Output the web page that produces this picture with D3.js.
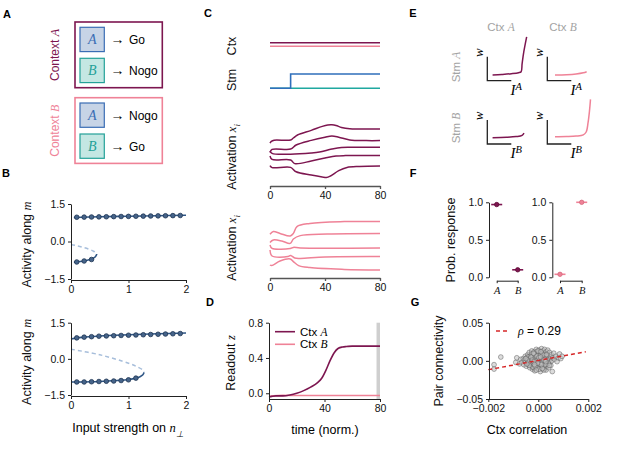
<!DOCTYPE html>
<html>
<head>
<meta charset="utf-8">
<script src="https://cdn.jsdelivr.net/npm/d3@7"></script>
<style>
  body { margin: 0; background: #fff; }
  svg { font-family: "Liberation Sans", Arial, sans-serif; }
  .math { font-family: "Liberation Serif", "Times New Roman", serif; font-style: italic; }
  .tick text { font-size: 10.5px; fill: #111; }
</style>
</head>
<body>
<div id="fig"></div>
<script>
// ---------- data ----------
const darkCol = "#7d1650";
const pinkCol = "#ef8297";

// A: task rules
const contexts = ["A", "B"];
const rulesA = [["A", "Go"], ["B", "Nogo"]];
const rulesB = [["A", "Nogo"], ["B", "Go"]];

// B: bifurcation diagrams (x = input strength, y = activity along m)
const bTopUpper = [[0.05, 0.96], [0.5, 0.99], [1, 1.01], [1.5, 1.03], [2, 1.05]];
const bTopLower = [[0.05, -0.83], [0.1, -0.82], [0.2, -0.79], [0.3, -0.74], [0.36, -0.7], [0.42, -0.62], [0.45, -0.5]];
const bTopUnstable = [[0, -0.12], [0.1, -0.17], [0.2, -0.23], [0.3, -0.3], [0.4, -0.4], [0.45, -0.5]];
const bTopDotsUpper = [0.97, 0.975, 0.98, 0.985, 0.99, 0.995, 1.0, 1.005, 1.01, 1.015, 1.02, 1.025, 1.03, 1.035, 1.04];
const bTopDotsLower = [-0.82, -0.78, -0.72];
const bBotUpper = [[0, 0.82], [0.1, 0.87], [0.23, 0.9], [0.5, 0.95], [1, 1.0], [1.5, 1.04], [2, 1.07]];
const bBotLower = [[0, -0.96], [0.5, -0.94], [0.8, -0.9], [1.0, -0.86], [1.13, -0.8], [1.2, -0.74], [1.25, -0.66], [1.27, -0.57]];
const bBotUnstable = [[0, 0.4], [0.5, 0.17], [1.0, -0.18], [1.15, -0.33], [1.25, -0.47], [1.27, -0.57]];
const bBotDotsUpper = [0.87, 0.9, 0.92, 0.94, 0.95, 0.96, 0.97, 0.98, 0.99, 1.0, 1.01, 1.02, 1.03, 1.04, 1.05];
const bBotDotsLower = [-0.96, -0.96, -0.95, -0.94, -0.93, -0.92, -0.9, -0.87, -0.8];
const bDotX = d3.range(15).map(i => 0.1 + i * 1.8 / 14);

// C: inputs
const timeTicks = [0, 40, 80];
const ctxA = [[0, 1], [80, 1]];
const ctxB = [[0, 0.9], [80, 0.9]];
const stmA = [[0, 0], [15, 0], [15, 1], [80, 1]];
const stmB = [[0, 0], [80, 0]];

// C: activations, context A
const actA = [
  [[0, 0.84], [1, 0.93], [3, 0.99], [15, 1.0], [17, 1.1], [20, 1.25], [30, 1.48], [38, 1.68], [42, 1.75], [45, 1.76], [48, 1.73], [52, 1.63], [58, 1.56], [65, 1.55], [80, 1.55]],
  [[0, 0.38], [1.5, 0.53], [15, 0.55], [19, 0.75], [30, 0.98], [40, 1.14], [45, 1.2], [50, 1.14], [58, 1.0], [70, 0.97], [80, 0.97]],
  [[0, 0.45], [1.5, 0.33], [15, 0.29], [30, 0.35], [36, 0.4], [45, 0.55], [52, 0.63], [60, 0.64], [80, 0.64]],
  [[0, 0.2], [1.5, 0.03], [15, 0], [18, -0.18], [30, -0.05], [40, 0.1], [48, 0.2], [55, 0.22], [80, 0.22]],
  [[0, -0.28], [1.5, -0.38], [15, -0.37], [19, -0.59], [30, -0.75], [38, -0.85], [41, -0.88], [44, -0.8], [50, -0.53], [56, -0.37], [65, -0.32], [80, -0.3]]
];
// C: activations, context B
const actB = [
  [[0, 0.79], [2.4, 0.92], [7.3, 0.83], [14.7, 0.7], [17, 0.83], [19.6, 1.17], [29, 1.33], [54, 1.42], [80, 1.42]],
  [[0, 0.38], [2.4, 0.5], [8.6, 0.45], [14.7, 0.33], [17, 0.55], [22, 0.72], [41.6, 0.8], [80, 0.83]],
  [[0, 0.25], [1.5, 0.08], [14.7, 0.08], [17, 0.13], [22, 0.1], [80, 0.1]],
  [[0, 0.0], [1.5, -0.3], [13, -0.33], [15, -0.27], [18, -0.4], [22, -0.42], [40, -0.35], [80, -0.33]],
  [[0, -0.75], [1.2, -0.78], [7.3, -0.55], [14.7, -0.45], [17, -0.58], [20.8, -0.78], [29, -0.88], [54, -0.97], [80, -1.0]]
];

// D: readout
const readA = [[0, -0.04], [2, -0.035], [5, -0.03], [10, -0.03], [15, -0.02], [20, 0.0], [25, 0.03], [30, 0.07], [35, 0.12], [38, 0.17], [41, 0.26], [44, 0.37], [47, 0.46], [50, 0.51], [53, 0.525], [56, 0.53], [60, 0.535], [70, 0.535], [80, 0.535]];
const readB = [[0, -0.04], [3, -0.028], [10, -0.024], [20, -0.025], [40, -0.025], [80, -0.025]];
const readWindow = [77.5, 80];
const readTicks = [0.0, 0.4, 0.8];

// E: w vs input curves (ctx, stm)
const eAA = [[0.22, 0.24], [0.6, 0.26], [1.0, 0.29], [1.3, 0.33], [1.41, 0.375], [1.45, 0.7], [1.52, 1.2], [1.64, 1.83]];
const eBA = [[0.32, 0.24], [0.8, 0.25], [1.2, 0.28], [1.5, 0.33], [1.64, 0.375]];
const eAB = [[0.22, 0.26], [0.8, 0.28], [1.2, 0.31], [1.45, 0.36], [1.53, 0.45]];
const eBB = [[0.32, 0.3], [0.8, 0.31], [1.2, 0.33], [1.5, 0.38], [1.62, 0.5], [1.7, 0.9], [1.76, 1.4], [1.8, 1.86]];

// F: probability of response
const stimuli = ["A", "B"];
const probCtxA = [0.97, 0.1];
const probCtxB = [0.04, 1.0];
const probTicks = [0, 0.5, 1];

// G: pair connectivity vs ctx correlation (x in 1e-4, y in 1e-3)
const pairPts = [
  [-17.7, -5], [-17.7, -10.8], [-15, 5], [-9, -2], [-8.6, 4], [-7.5, -4], [-7, 2],
  [-6.5, -2], [-6, 3], [-5.8, -5], [-5.5, 1], [-5.2, 6], [-5, -1], [-4.8, -7], [-4.6, 4], [-4.4, -3], [-4.2, 8],
  [-4, 0], [-3.9, -5], [-3.7, 2], [-3.6, 11], [-3.4, -9], [-3.3, 5], [-3.1, -2], [-3, 7], [-2.9, -6], [-2.8, 1],
  [-2.6, 13], [-2.5, -4], [-2.4, 4], [-2.3, -11], [-2.2, 9], [-2.1, -1], [-2, 6], [-1.9, -7], [-1.8, 2], [-1.7, 12],
  [-1.6, -3], [-1.5, 7], [-1.4, -13], [-1.3, 0], [-1.2, 10], [-1.1, -5], [-1, 4], [-0.9, -9], [-0.8, 15], [-0.7, 1],
  [-0.6, -2], [-0.5, 8], [-0.4, -6], [-0.3, 3], [-0.2, 11], [-0.1, -4], [0, 6], [0.1, -10], [0.2, 1], [0.3, 14],
  [0.4, -1], [0.5, 9], [0.6, -7], [0.7, 4], [0.8, -14], [0.9, 12], [1, 0], [1.1, 7], [1.2, -3], [1.3, 16],
  [1.4, -8], [1.5, 2], [1.6, 10], [1.7, -5], [1.8, 5], [1.9, -11], [2, 13], [2.1, -1], [2.2, 8], [2.3, -6],
  [2.4, 3], [2.5, 15], [2.6, -3], [2.7, 10], [2.8, -9], [2.9, 1], [3, 6], [3.1, -12], [3.2, 12], [3.3, -2],
  [3.4, 4], [3.5, -7], [3.6, 9], [3.7, 0], [3.8, 14], [3.9, -4], [4, 7], [4.2, -9], [4.3, 2], [4.5, 11],
  [4.6, -2], [4.8, 5], [5, -6], [5.2, 8], [5.4, 0], [5.6, -14], [5.8, 4], [6.2, 10], [6.5, 2], [7, 6],
  [7.5, -1], [8, 4], [8.5, 9], [9, 3], [9.5, 6],
  [-1.5, 2], [-1, -1], [-0.5, 3], [0, -2], [0.5, 2], [1, -6], [1.5, 5], [-2, 0], [-2.5, 3], [2, -2],
  [2.5, 4], [-0.3, -8], [0.3, 8], [-3, -3], [3, 3], [0.8, -3], [-0.8, 5], [1.2, 1], [-1.2, -2], [0.2, -5],
  [-3.5, -1], [-4, 5], [4, -3], [3.5, 2], [1.8, -8], [-1.8, -9], [0.6, 12], [-0.6, 12], [2.2, -12], [-2.2, -8],
  [-1, 8], [0, 10], [1, 9], [-2, -4], [0, 3], [1.3, -1], [-0.7, -5], [2.6, 7], [-2.7, 9], [0.4, 5],
  [-3.2, 3], [-2.7, -2], [-2.3, 6], [-1.9, -3], [-1.4, 4], [-1.1, 1], [-0.9, -3], [-0.4, 1], [0.1, -1], [0.6, 3],
  [0.9, -1], [1.4, 3], [1.7, 1], [2.1, 4], [2.4, -1], [2.8, 2], [3.2, -4], [-3.8, -2], [-4.3, 1], [-5, 3],
  [-1.6, 9], [-0.2, 7], [0.7, 7], [1.9, 8], [-2.9, 5], [-0.5, -9], [0.5, -4], [1.5, -3], [-1.3, -7], [2.7, -5],
  [-0.1, 13], [1.1, 12], [-1.9, 10], [3.3, 8], [-3.6, -6], [0.3, -11], [-0.8, -12], [1.6, -10], [4.4, -6], [-4.6, -4],
  [-2.4, 1], [-1.7, -1], [-0.6, 6], [0.2, 4], [0.9, 5], [1.2, -5], [2.3, 1], [-0.3, -3], [-1.5, -5], [3, -1]
];
const fitLine = [[-0.002, -0.0115], [0.0019, 0.0118]];
const rho = "0.29";

// ---------- helpers ----------
const W = 627, H = 454;
const svg = d3.select("#fig").append("svg").attr("width", W).attr("height", H);

function styleAxis(g) {
  g.attr("font-size", null).attr("font-family", null);
  g.selectAll("path, line").attr("stroke", "#222").attr("stroke-width", 1);
}

function mathLabel(sel, parts) {
  // parts: [text, kind] where kind: "n" normal, "m" math italic, "sub", "sup"
  parts.forEach(([t, k]) => {
    const ts = sel.append("tspan").text(t);
    if (k !== "n") ts.attr("class", "math");
    if (k === "sub") ts.attr("baseline-shift", "sub").attr("font-size", "0.7em");
    if (k === "sup") ts.attr("baseline-shift", "super").attr("font-size", "0.7em");
  });
  return sel;
}

function rotLabel(x, y, parts, size, color) {
  const t = svg.append("text")
    .attr("transform", `translate(${x},${y}) rotate(-90)`)
    .attr("text-anchor", "middle")
    .attr("dominant-baseline", "middle")
    .attr("font-size", size || 12)
    .attr("fill", color || "#111");
  return mathLabel(t, parts);
}

// panel letters
[["A", 7, 14], ["B", 6, 173], ["C", 208, 13], ["D", 210, 302], ["E", 413, 13], ["F", 413, 173], ["G", 415, 302]]
  .forEach(([l, x, y]) => svg.append("text").attr("x", x).attr("y", y + 4)
    .attr("text-anchor", "middle").attr("font-weight", "bold").attr("font-size", 11).text(l));

// ---------- A ----------
const sqStyle = {
  A: { fill: "#c7d4e6", stroke: "#3a6db4" },
  B: { fill: "#c4e7e3", stroke: "#24a198" }
};
[[rulesA, 22, darkCol], [rulesB, 97.7, pinkCol]].forEach(([rules, y0, col], ci) => {
  svg.append("rect").attr("x", 75).attr("y", y0).attr("width", 87.3).attr("height", 65.7)
    .attr("fill", "none").attr("stroke", col).attr("stroke-width", 1.6);
  rotLabel(56, y0 + 33, [["Context ", "n"], [contexts[ci], "m"]], 12, col);
  rules.forEach(([stim, resp], i) => {
    const sy = y0 + 5.3 + i * 31;
    svg.append("rect").attr("x", 80).attr("y", sy).attr("width", 24.3).attr("height", 24.3)
      .attr("fill", sqStyle[stim].fill).attr("stroke", sqStyle[stim].stroke).attr("stroke-width", 1.2);
    svg.append("text").attr("class", "math").attr("x", 92.2).attr("y", sy + 17)
      .attr("text-anchor", "middle").attr("font-size", 14).attr("fill", sqStyle[stim].stroke).text(stim);
    svg.append("text").attr("x", 110.5).attr("y", sy + 16.5).attr("font-size", 14)
      .attr("font-family", "Liberation Serif").text("→");
    svg.append("text").attr("x", 129).attr("y", sy + 16.5).attr("font-size", 12).text(resp);
  });
});

// ---------- B ----------
function bifurcation(yTop, yBot, upper, lower, unstable, dotsU, dotsL) {
  const x = d3.scaleLinear([0, 2], [71, 186]);
  const y = d3.scaleLinear([-1.5, 1.5], [yBot, yTop]);
  const line = d3.line().x(d => x(d[0])).y(d => y(d[1])).curve(d3.curveCatmullRom);
  const g = svg.append("g");
  g.append("path").attr("d", line(unstable)).attr("fill", "none")
    .attr("stroke", "#a7bedb").attr("stroke-width", 1.5).attr("stroke-dasharray", "4,3");
  [upper, lower].forEach(d => g.append("path").attr("d", line(d)).attr("fill", "none")
    .attr("stroke", "#2f5685").attr("stroke-width", 1.6));
  const dots = dotsU.map((v, i) => [bDotX[i], v]).concat(dotsL.map((v, i) => [bDotX[i], v]));
  g.selectAll("circle").data(dots).join("circle")
    .attr("cx", d => x(d[0])).attr("cy", d => y(d[1])).attr("r", 2.3)
    .attr("fill", "#46648a").attr("stroke", "#1d3352").attr("stroke-width", 0.8);
  svg.append("g").attr("transform", "translate(71,0)")
    .call(d3.axisLeft(y).tickValues([-1.5, 0, 1.5]).tickFormat(d3.format(".1f")).tickSize(3).tickSizeOuter(0))
    .call(styleAxis);
  svg.append("g").attr("transform", `translate(0,${yBot + 1})`)
    .call(d3.axisBottom(x).tickValues([0, 1, 2]).tickFormat(d3.format("d")).tickSize(3).tickSizeOuter(0))
    .call(styleAxis);
  rotLabel(28, (yTop + yBot) / 2 + 3, [["Activity along ", "n"], ["m", "m"]], 12.5);
}
bifurcation(204, 279, bTopUpper, bTopLower, bTopUnstable, bTopDotsUpper, bTopDotsLower);
bifurcation(322.7, 395, bBotUpper, bBotLower, bBotUnstable, bBotDotsUpper, bBotDotsLower);
mathLabel(svg.append("text").attr("x", 128).attr("y", 432).attr("text-anchor", "middle").attr("font-size", 12.5),
  [["Input strength on ", "n"], ["n", "m"], ["⊥", "sub"]]);

// ---------- C ----------
const xt = d3.scaleLinear([0, 80], [270, 380]);
const ctxY = d3.scaleLinear([0.9, 1], [46.3, 42.7]);
const stmY = d3.scaleLinear([0, 1], [88.3, 74]);
const lineCtx = d3.line().x(d => xt(d[0])).y(d => ctxY(d[1]));
const lineStm = d3.line().x(d => xt(d[0])).y(d => stmY(d[1]));
svg.append("path").attr("d", lineCtx(ctxB)).attr("fill", "none").attr("stroke", pinkCol).attr("stroke-width", 1.6);
svg.append("path").attr("d", lineCtx(ctxA)).attr("fill", "none").attr("stroke", darkCol).attr("stroke-width", 1.6);
svg.append("path").attr("d", lineStm(stmB)).attr("fill", "none").attr("stroke", "#1fa8a0").attr("stroke-width", 1.6);
svg.append("path").attr("d", lineStm(stmA)).attr("fill", "none").attr("stroke", "#2f6fbb").attr("stroke-width", 1.6);
rotLabel(233, 46, [["Ctx", "n"]], 12.5);
rotLabel(233, 80, [["Stm", "n"]], 12.5);

function activation(data, yTop, yBot, axisY, col, labelY) {
  const y = d3.scaleLinear([-1, 2], [yBot, yTop]);
  const line = d3.line().x(d => xt(d[0])).y(d => y(d[1])).curve(d3.curveCatmullRom.alpha(0.5));
  svg.append("g").selectAll("path").data(data).join("path")
    .attr("d", line).attr("fill", "none").attr("stroke", col).attr("stroke-width", 1.5);
  svg.append("g").attr("transform", `translate(0,${axisY})`)
    .call(d3.axisBottom(xt).tickValues(timeTicks).tickSize(3).tickSizeOuter(0))
    .call(styleAxis)
    .call(g => g.selectAll("path, line").attr("stroke", "#555").attr("stroke-width", 1.3));
  rotLabel(233, labelY, [["Activation ", "n"], ["x", "m"], ["i", "sub"]], 12.5);
}
activation(actA, 120, 180, 186, darkCol, 157);
activation(actB, 210, 270, 278, pinkCol, 248);

// ---------- D ----------
const yD = d3.scaleLinear([-0.065, 0.8], [399, 322.7]);
const xD = d3.scaleLinear([0, 80], [269, 380]);
svg.append("rect").attr("x", xD(readWindow[0])).attr("y", yD(0.8))
  .attr("width", xD(readWindow[1]) - xD(readWindow[0])).attr("height", yD(-0.065) - yD(0.8))
  .attr("fill", "#cfcfcf");
const lineD = d3.line().x(d => xD(d[0])).y(d => yD(d[1])).curve(d3.curveMonotoneX);
svg.append("path").attr("d", lineD(readB)).attr("fill", "none").attr("stroke", pinkCol).attr("stroke-width", 1.6);
svg.append("path").attr("d", lineD(readA)).attr("fill", "none").attr("stroke", darkCol).attr("stroke-width", 1.6);
svg.append("g").attr("transform", "translate(269,0)")
  .call(d3.axisLeft(yD).tickValues(readTicks).tickFormat(d3.format(".1f")).tickSize(3).tickSizeOuter(0))
  .call(styleAxis);
svg.append("g").attr("transform", "translate(0,399)")
  .call(d3.axisBottom(xD).tickValues(timeTicks).tickSize(3).tickSizeOuter(0))
  .call(styleAxis);
[[darkCol, "A", 331.7], [pinkCol, "B", 344.3]].forEach(([c, k, y]) => {
  svg.append("line").attr("x1", 275).attr("x2", 295).attr("y1", y).attr("y2", y)
    .attr("stroke", c).attr("stroke-width", 1.6);
  mathLabel(svg.append("text").attr("x", 300).attr("y", y + 4).attr("font-size", 11.5),
    [["Ctx ", "n"], [k, "m"]]);
});
rotLabel(232, 363, [["Readout ", "n"], ["z", "m"]], 12.5);
svg.append("text").attr("x", 325).attr("y", 434).attr("text-anchor", "middle").attr("font-size", 12.5).text("time (norm.)");

// ---------- E ----------
const grey = "#a3a3a3";
mathLabel(svg.append("text").attr("x", 501).attr("y", 31).attr("text-anchor", "middle").attr("font-size", 11.5).attr("fill", grey),
  [["Ctx ", "n"], ["A", "m"]]);
mathLabel(svg.append("text").attr("x", 563).attr("y", 31).attr("text-anchor", "middle").attr("font-size", 11.5).attr("fill", grey),
  [["Ctx ", "n"], ["B", "m"]]);
rotLabel(456.7, 67, [["Stm ", "n"], ["A", "m"]], 11.5, grey);
rotLabel(456.7, 128, [["Stm ", "n"], ["B", "m"]], 11.5, grey);
[[eAA, 487.3, 80.7, darkCol, "A"], [eBA, 547.3, 80.7, pinkCol, "A"],
 [eAB, 487.3, 144, darkCol, "B"], [eBB, 547.3, 144, pinkCol, "B"]].forEach(([data, x0, y0, col, stim]) => {
  const x = d3.scaleLinear([0, 1], [x0, x0 + 24]);
  const y = d3.scaleLinear([0, 1], [y0, y0 - 24]);
  svg.append("path").attr("d", `M${x(0)},${y(1)}V${y(0)}H${x(1)}`)
    .attr("fill", "none").attr("stroke", "#222").attr("stroke-width", 1.3);
  svg.append("path").attr("d", d3.line().x(d => x(d[0])).y(d => y(d[1])).curve(d3.curveCatmullRom)(data))
    .attr("fill", "none").attr("stroke", col).attr("stroke-width", 1.5);
  svg.append("text").attr("class", "math")
    .attr("transform", `translate(${x0 - 7},${y0 - 28}) rotate(-90)`)
    .attr("text-anchor", "middle").attr("dominant-baseline", "middle").attr("font-size", 13).text("w");
  mathLabel(svg.append("text").attr("x", x0 + 29).attr("y", y0 + 14).attr("text-anchor", "middle").attr("font-size", 15),
    [["I", "m"], [stim, "sup"]]);
});

// ---------- F ----------
const yF = d3.scaleLinear([0, 1], [277.3, 202.3]);
[[probCtxA, 489, [496.7, 517.7], darkCol, "#5e0a35"], [probCtxB, 552.3, [560, 581.7], pinkCol, "#d4687c"]]
  .forEach(([vals, ax, range, col, edge]) => {
    const x = d3.scalePoint(stimuli, range);
    svg.append("g").attr("transform", `translate(${ax},0)`)
      .call(d3.axisLeft(yF).tickValues(probTicks).tickFormat(d3.format(".1f")).tickSize(3).tickSizeOuter(0))
      .call(styleAxis);
    svg.append("g").attr("transform", "translate(0,280.7)")
      .call(d3.axisBottom(x).tickSize(2.5).tickSizeOuter(0))
      .call(styleAxis)
      .call(g => g.selectAll("text").attr("class", "math").attr("font-size", 12));
    const g = svg.append("g");
    g.selectAll("line").data(vals).join("line")
      .attr("x1", (d, i) => x(stimuli[i]) - 5.5).attr("x2", (d, i) => x(stimuli[i]) + 5.5)
      .attr("y1", d => yF(d)).attr("y2", d => yF(d)).attr("stroke", col).attr("stroke-width", 1.6);
    g.selectAll("circle").data(vals).join("circle")
      .attr("cx", (d, i) => x(stimuli[i])).attr("cy", d => yF(d)).attr("r", 2.2)
      .attr("fill", col).attr("stroke", edge).attr("stroke-width", 0.8);
  });
rotLabel(452, 240, [["Prob. response", "n"]], 12.5);

// ---------- G ----------
const xG = d3.scaleLinear([-0.002, 0.002], [488.3, 588.3]);
const yG = d3.scaleLinear([-0.05, 0.05], [399, 322.7]);
svg.append("g").selectAll("circle").data(pairPts).join("circle")
  .attr("cx", d => xG(d[0] * 1e-4)).attr("cy", d => yG(d[1] * 1e-3)).attr("r", 2.4)
  .attr("fill", "#c4c4c4").attr("fill-opacity", 0.6)
  .attr("stroke", "#5f5f5f").attr("stroke-opacity", 0.85).attr("stroke-width", 0.6);
svg.append("path").attr("d", d3.line().x(d => xG(d[0])).y(d => yG(d[1]))(fitLine))
  .attr("fill", "none").attr("stroke", "#d62728").attr("stroke-width", 1.5).attr("stroke-dasharray", "4,3");
svg.append("g").attr("transform", "translate(489,0)")
  .call(d3.axisLeft(yG).tickValues([-0.05, 0, 0.05]).tickFormat(d3.format(".2f")).tickSize(3).tickSizeOuter(0))
  .call(styleAxis);
svg.append("g").attr("transform", "translate(0,399)")
  .call(d3.axisBottom(xG).tickValues([-0.002, 0, 0.002]).tickFormat(d3.format(".3f")).tickSize(3).tickSizeOuter(0))
  .call(styleAxis);
svg.append("line").attr("x1", 496).attr("x2", 508).attr("y1", 331).attr("y2", 331)
  .attr("stroke", "#d62728").attr("stroke-width", 1.5).attr("stroke-dasharray", "4,3");
mathLabel(svg.append("text").attr("x", 518).attr("y", 335).attr("font-size", 12),
  [["ρ", "m"], [" = ", "n"], [rho, "n"]]);
rotLabel(440, 361, [["Pair connectivity", "n"]], 12.5);
svg.append("text").attr("x", 527).attr("y", 434).attr("text-anchor", "middle").attr("font-size", 12.5).text("Ctx correlation");
</script>
</body>
</html>
